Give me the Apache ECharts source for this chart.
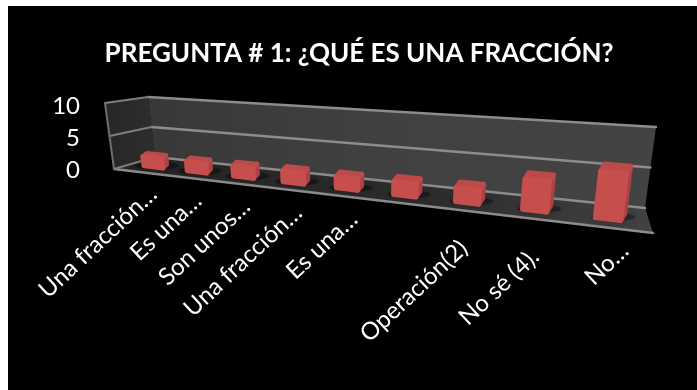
<!DOCTYPE html>
<html><head><meta charset="utf-8">
<style>html,body{margin:0;padding:0;background:#fff}#c{width:697px;height:390px}</style>
<script src="https://cdn.jsdelivr.net/npm/echarts@6/dist/echarts.min.js"></script>
</head><body><div id="c"></div>
<script>
const titleText = 'PREGUNTA # 1: ¿QUÉ ES UNA FRACCIÓN?';
const categories = ['Una fracción…','Es una…','Son unos…','Una fracción…','Es una…','','Operación(2)','No sé (4).','No…'];
const values = [1.4,1.4,1.5,1.6,1.6,1.8,1.9,4,6];
const yTicks = [0,5,10];

// Layout of the perspective box (pixels): corner [depth front/back][u left/right][v bottom/top]
const C = {
  fl0:[114,169], fl1:[105,103], fr0:[653,233], fr1:[664,155],
  bl0:[155,157], bl1:[148,97],  br0:[645,208], br1:[656,127]
};
const labelDx = [-2,-1,1,3,5,0,-5,-1,15];
const labelDy = [19,20,20,20,20,0,34,34,19];
const K = 1.4;
const lerp=(a,b,t)=>[a[0]+(b[0]-a[0])*t,a[1]+(b[1]-a[1])*t];
function project(s,v,d){
  const t=s/(s+K*(1-s));
  const f=lerp(lerp(C.fl0,C.fr0,t),lerp(C.fl1,C.fr1,t),v);
  const b=lerp(lerp(C.bl0,C.br0,t),lerp(C.bl1,C.br1,t),v);
  return lerp(f,b,d);
}
const poly=(pts,style,z)=>({type:'polygon',shape:{points:pts},style,z2:z||0,silent:true});
const line=(a,b,w,c,z)=>({type:'line',shape:{x1:a[0],y1:a[1],x2:b[0],y2:b[1]},style:{stroke:c||'#8c8c8c',lineWidth:w||2,lineCap:'round'},z2:z||1,silent:true});

function renderFrame(params,api){
  const cs=params.coordSys;
  const nv=val=>(cs.y+cs.height-api.coord([0,val])[1])/cs.height;
  const kids=[];
  const P=project;
  const ramp=(stops)=>({type:'linear',x:0,y:0,x2:1,y2:0,colorStops:stops});
  kids.push(poly([P(0,0,1),P(0,1,1),P(1,1,1),P(1,0,1)],{fill:ramp([{offset:0,color:'#383838'},{offset:.5,color:'#414141'},{offset:1,color:'#434343'}])}));
  kids.push(poly([P(0,0,0),P(0,1,0),P(0,1,1),P(0,0,1)],{fill:ramp([{offset:0,color:'#262626'},{offset:1,color:'#2e2e2e'}])}));
  kids.push(poly([P(0,0,0),P(0,0,1),P(1,0,1),P(1,0,0)],{fill:ramp([{offset:0,color:'#242424'},{offset:.6,color:'#2c2c2c'},{offset:1,color:'#424242'}])}));
  yTicks.filter(t=>t>0).forEach(t=>{
    const v=nv(t);
    kids.push(line(P(0,v,1),P(1,v,1),2.5,'#8c8c8c'));
    kids.push(line(P(0,v,0),P(0,v,1),2,'#7e7e7e'));
  });
  kids.push(line(P(0,0,1),P(1,0,1),2.5,'#8c8c8c'));
  kids.push(line(P(0,0,0),P(1,0,0),2.5,'#8c8c8c'));
  kids.push(line(P(0,0,0),P(0,0,1),2,'#7e7e7e'));
  kids.push(line(P(0,0,0),P(0,1,0),2,'#6e6e6e'));
  return {type:'group',children:kids};
}

function renderBar(params,api){
  const cs=params.coordSys;
  const i=api.value(0), val=api.value(1);
  const pt=api.coord([i,val]), base=api.coord([i,0]);
  const s=(pt[0]-cs.x)/cs.width, v=(base[1]-pt[1])/cs.height;
  const hw=0.025-0.007*s;
  const df=.38, db=.66;
  const corner=(sgn,vv,d)=>[project(s+sgn*hw,vv,.5)[0]+(d-.52)*14, project(s+sgn*hw,vv,d)[1]];
  const fbl=corner(-1,0,df), fbr=corner(1,0,df), ftl=corner(-1,v,df), ftr=corner(1,v,df);
  const btl=corner(-1,v,db), btr=corner(1,v,db), bbr=corner(1,0,db);
  const kids=[];
  const shadow=project(s,0,df+.08);
  kids.push({type:'ellipse',shape:{cx:shadow[0]+3,cy:shadow[1],rx:22,ry:4},style:{fill:'rgba(0,0,0,.35)',shadowBlur:10,shadowColor:'rgba(0,0,0,.6)'},z2:2,silent:true});
  const rnd=(c,w)=>({fill:c,stroke:c,lineWidth:w,lineJoin:'round'});
  kids.push(poly([ftr,btr,bbr,fbr],rnd('#ab4241',5),3));
  kids.push(poly([ftl,btl,btr,ftr],rnd('#bb4a49',5),3));
  kids.push(poly([fbl,ftl,ftr,fbr],rnd('#c64f4e',5),4));
  return {type:'group',children:kids};
}

function renderLabel(params,api){
  const cs=params.coordSys;
  const i=api.value(0);
  const c=api.coord([i,0]);
  const s=(c[0]-cs.x)/cs.width;
  const front=project(s,0,0);
  const mid=project(s,0,.5);
  return {type:'text',x:mid[0]+labelDx[i],y:front[1]+labelDy[i],rotation:43*Math.PI/180,silent:true,
    style:{text:categories[i],align:'right',verticalAlign:'middle',fill:'#fff',fontFamily:'Lato',fontSize:24}};
}

const chart=echarts.init(document.getElementById('c'));
chart.setOption({
  animation:false,
  backgroundColor:'#fff',
  title:{text:titleText,left:354,top:36,textAlign:'center',textStyle:{color:'#fff',fontFamily:'Lato',fontWeight:'bold',fontSize:26}},
  graphic:[{type:'rect',shape:{x:8,y:6,width:689,height:384},style:{fill:'#000'},z:-1,silent:true}],
  grid:{left:114,top:106,width:539,height:64},
  xAxis:{type:'category',data:categories,axisLine:{show:false},axisTick:{show:false},axisLabel:{show:false},splitLine:{show:false}},
  yAxis:{type:'value',min:0,max:10,interval:5,axisLine:{show:false},axisTick:{show:false},splitLine:{show:false},
    axisLabel:{color:'#fff',fontFamily:'Lato',fontSize:24,margin:34}},
  series:[
    {type:'custom',name:'frame',data:[[0,0]],renderItem:renderFrame,clip:false,z:1,silent:true},
    {type:'custom',name:'valores',data:values.map((v,i)=>[i,v]),encode:{x:0,y:1},renderItem:renderBar,clip:false,z:2,silent:true},
    {type:'custom',name:'etiquetas',data:categories.map((c,i)=>[i,0]),encode:{x:0,y:1},renderItem:renderLabel,clip:false,z:3,silent:true}
  ]
});
</script></body></html>
